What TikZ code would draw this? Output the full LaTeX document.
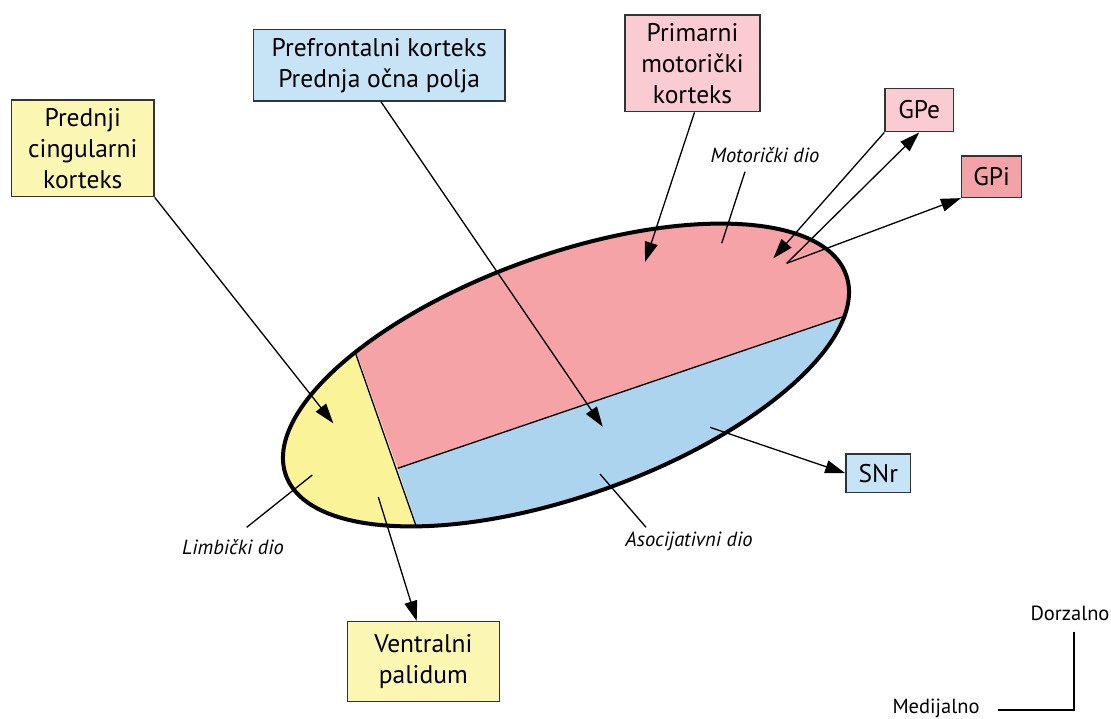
\documentclass[tikz,border=0pt]{standalone}
\usepackage{fontspec}
\setmainfont{PT Sans}
\usetikzlibrary{arrows.meta,calc}
\definecolor{regpink}{HTML}{F5A3A6}
\definecolor{regblue}{HTML}{ADD4EF}
\definecolor{regyellow}{HTML}{FAF398}
\definecolor{boxyellow}{HTML}{FBF6B2}
\definecolor{boxblue}{HTML}{C6E4F5}
\definecolor{boxpink}{HTML}{FBCBD3}
\definecolor{boxred}{HTML}{F3A3A7}
\definecolor{boxline}{HTML}{333333}
\tikzset{
  lbox/.style={draw=boxline, line width=1.5pt, inner sep=0pt, align=center,
    font=\fontsize{25.5}{31}\selectfont},
  conn/.style={line width=1.3pt, -{Triangle[length=20pt,width=13pt]}},
  plainline/.style={line width=1.3pt},
  part/.style={font=\fontsize{20.5}{24}\selectfont\itshape, inner sep=0pt},
  orient/.style={font=\fontsize{20.5}{24}\selectfont, inner sep=0pt}
}
\begin{document}
\begin{tikzpicture}[x=1pt,y=-1pt]
\useasboundingbox (0,0) rectangle (1111,718);
% ellipse regions
\coordinate (c) at (566,375);
\coordinate (ytop) at (284.3,150);
\coordinate (ymid) at (397.7,468.3);
\coordinate (ybot) at (442,600);
\coordinate (pbr) at (900,297.3);
\begin{scope}
  \clip[rotate around={19.7:(c)}] (c) ellipse [x radius=297.5pt, y radius=120.5pt];
  \fill[regyellow] (200,100) rectangle (950,650);
  \fill[regpink] (ymid) -- (pbr) -- (900,150) -- (ytop) -- cycle;
  \fill[regblue] (ymid) -- (pbr) -- (900,600) -- (ybot) -- cycle;
  \draw[line width=1.3pt] (ytop) -- (ybot);
  \draw[line width=1.3pt] (ymid) -- (pbr);
\end{scope}
\draw[line width=4pt,rotate around={19.7:(c)}] (c) ellipse [x radius=297.5pt, y radius=120.5pt];

% boxes
\node[lbox, fill=boxyellow, minimum width=142.3pt, minimum height=96.7pt] (cing) at (82.8,148.3) {Prednji\\cingularni\\korteks};
\node[lbox, fill=boxblue, minimum width=251.7pt, minimum height=71.7pt] (pref) at (379.2,65.2) {Prefrontalni korteks\\Prednja očna polja};
\node[lbox, fill=boxpink, minimum width=135pt, minimum height=96.7pt] (prim) at (692.5,63.3) {Primarni\\motorički\\korteks};
\node[lbox, fill=boxpink, minimum width=68.3pt, minimum height=43.4pt] (gpe) at (919.2,110) {GPe};
\node[lbox, fill=boxred, minimum width=60pt, minimum height=41.3pt] (gpi) at (991.7,176.7) {GPi};
\node[lbox, fill=boxblue, minimum width=64.7pt, minimum height=38.3pt] (snr) at (878.3,473.2) {SNr};
\node[lbox, fill=boxyellow, minimum width=152pt, minimum height=80pt] (vp) at (423.3,661.7) {Ventralni\\palidum};

% inner points
\coordinate (cingtip) at (333.3,423.3);
\coordinate (preftip) at (602.7,426.7);
\coordinate (primtip) at (645,262);
\coordinate (gpetip) at (773.3,258.3);
\coordinate (outstart) at (786.7,263.3);
\coordinate (snrstart) at (710,427.3);
\coordinate (vpstart) at (378.3,497);

% connectors
\draw[conn] (cing.south east) -- (cingtip);
\draw[conn] ($(pref.south)+(1.8,0)$) -- (preftip);
\draw[conn] ($(prim.south)+(2,0)$) -- (primtip);
\draw[conn] (gpe.south west) -- (gpetip);
\draw[conn] (outstart) -- (gpe.south);
\draw[conn] (outstart) -- (gpi.south west);
\draw[conn] (snrstart) -- (snr.west);
\draw[conn] (vpstart) -- ($(vp.north)+(-6.6,0)$);

% part labels
\node[part] (motor) at (765,155) {Motorički dio};
\node[part] (limb) at (233,547) {Limbički dio};
\node[part] (asoc) at (689,541) {Asocijativni dio};
\coordinate (motorin) at (721.7,243.3);
\coordinate (limbin) at (312.3,475);
\coordinate (asocin) at (600,474);
\draw[plainline] (745,171.7) -- (motorin);
\draw[plainline] (246.7,527.3) -- (limbin);
\draw[plainline] (646,527.3) -- (asocin);

% orientation
\node[orient] (dors) at (1070,613) {Dorzalno};
\node[orient] (med) at (936,708) {Medijalno};
\coordinate (corner) at (1074,710);
\draw[line width=1.3pt] (1074,631.7) -- (corner) -- (998.3,710);
\end{tikzpicture}
\end{document}
